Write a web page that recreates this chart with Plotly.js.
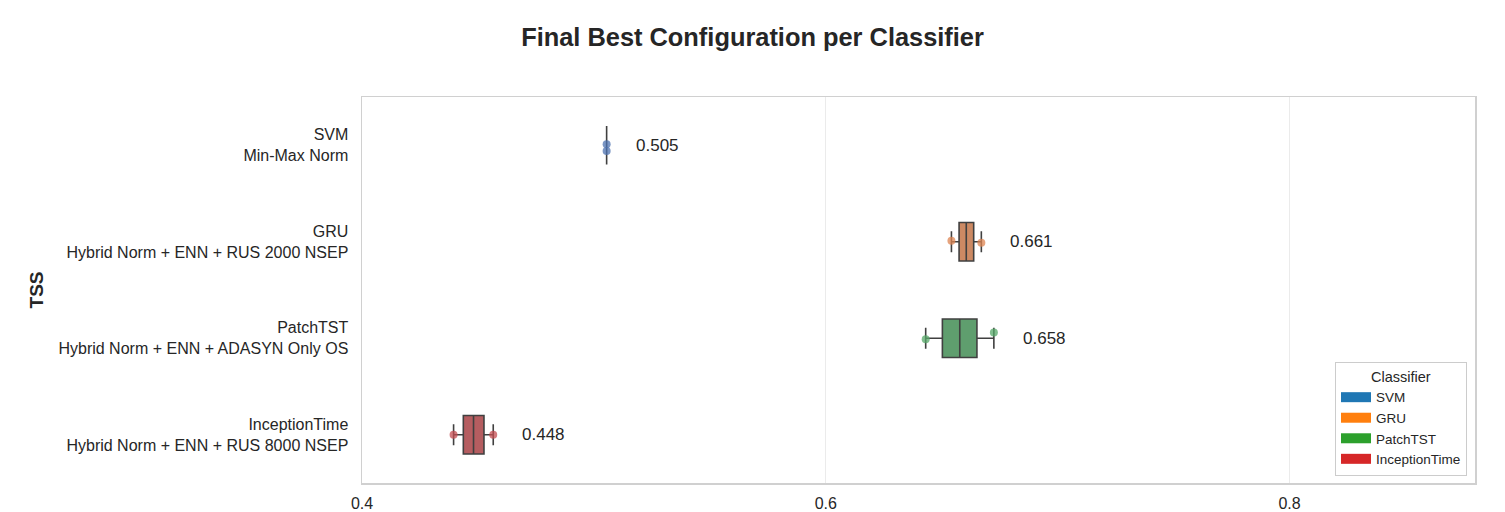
<!DOCTYPE html>
<html>
<head>
<meta charset="utf-8">
<script src="https://cdn.plot.ly/plotly-3.0.1.min.js"></script>
<style>html,body{margin:0;padding:0;background:#fff;}#chart{width:1505px;height:512px;}</style>
</head>
<body>
<div id="chart"></div>
<script>
// ---- data ----
const classifiers = ['SVM', 'GRU', 'PatchTST', 'InceptionTime'];
const configs = ['Min-Max Norm', 'Hybrid Norm + ENN + RUS 2000 NSEP', 'Hybrid Norm + ENN + ADASYN Only OS', 'Hybrid Norm + ENN + RUS 8000 NSEP'];
const whiskerLow  = [0.5055, 0.6542, 0.6431, 0.4395];
const q1          = [0.5055, 0.6575, 0.6503, 0.4437];
const median      = [0.5055, 0.6606, 0.6578, 0.4481];
const q3          = [0.5055, 0.6638, 0.6652, 0.4526];
const whiskerHigh = [0.5055, 0.6671, 0.6725, 0.4566];
const meanTSS     = [0.505, 0.661, 0.658, 0.448];
// visible run points (strip plot, others hidden under boxes) and their jitter
const pointsX = [[0.5055, 0.5055], [0.6542, 0.6671], [0.6431, 0.6725], [0.4395, 0.4566]];
const pointsJitter = [[-0.01, 0.06], [-0.01, 0.01], [0.01, -0.06], [0.0, 0.0]];
const tickVals = ['0.4', '0.6', '0.8'];

// ---- styles ----
const boxColors = ['#5875a4', '#cc8963', '#5f9e6e', '#b55d60'];
const dotColors = ['#4c72b0', '#dd8452', '#55a868', '#c44e52'];
const legendColors = ['#1f77b4', '#ff7f0e', '#2ca02c', '#d62728'];
const font = 'Liberation Sans, Arial, Helvetica, sans-serif';
const textColor = '#262626';

const traces = [];
classifiers.forEach((c, i) => {
  traces.push({
    type: 'scatter', mode: 'markers',
    x: pointsX[i], y: pointsX[i].map((_, k) => i + pointsJitter[i][k]),
    marker: {color: dotColors[i], size: 8, opacity: 0.75},
    showlegend: false, hoverinfo: 'x'
  });
});
classifiers.forEach((c, i) => {
  traces.push({
    type: 'box', orientation: 'h', y: [i],
    q1: [q1[i]], median: [median[i]], q3: [q3[i]],
    lowerfence: [whiskerLow[i]], upperfence: [whiskerHigh[i]],
    width: 0.4, whiskerwidth: 0.55, boxpoints: false,
    fillcolor: boxColors[i], line: {color: '#404040', width: 1.6},
    showlegend: false, name: c
  });
});
classifiers.forEach((c, i) => {
  traces.push({
    type: 'scatter', mode: 'lines', x: [null], y: [null], name: c,
    line: {color: legendColors[i], width: 10}, showlegend: true
  });
});

const annotations = classifiers.map((c, i) => ({
  x: whiskerHigh[i], y: i, xref: 'x', yref: 'y', xanchor: 'left', yanchor: 'middle',
  xshift: 27, showarrow: false, text: meanTSS[i].toFixed(3),
  font: {family: font, size: 17, color: textColor}
}));

const layout = {
  width: 1505, height: 512,
  margin: {l: 362, r: 30, t: 97, b: 29},
  paper_bgcolor: '#ffffff', plot_bgcolor: '#ffffff',
  font: {family: font, color: textColor},
  title: {
    text: '<b>Final Best Configuration per Classifier</b>',
    font: {family: font, size: 25.4, color: textColor},
    x: 0.5, xref: 'container', xanchor: 'center',
    y: 1 - 37 / 512, yref: 'container', yanchor: 'middle'
  },
  boxmode: 'overlay',
  xaxis: {
    range: [0.4, 0.88], tickvals: tickVals.map(Number), ticktext: tickVals,
    showgrid: true, gridcolor: '#ebebeb', gridwidth: 1,
    showline: true, mirror: true, linecolor: '#d0d0d0', linewidth: 1.5,
    zeroline: false, ticks: '', ticklabelstandoff: 5,
    tickfont: {family: font, size: 16, color: textColor}
  },
  yaxis: {
    range: [3.5, -0.5], tickvals: [0, 1, 2, 3],
    ticktext: classifiers.map((c, i) => c + '<br>' + configs[i]),
    showgrid: false, showline: true, mirror: true, linecolor: '#d0d0d0', linewidth: 1.5,
    zeroline: false, ticks: '', ticklabelstandoff: 9,
    tickfont: {family: font, size: 16, color: textColor},
    title: {text: '<b>TSS</b>', font: {family: font, size: 19, color: textColor}, standoff: 10}
  },
  legend: {
    x: 0.9928, y: 0.018, xanchor: 'right', yanchor: 'bottom',
    bgcolor: '#ffffff', bordercolor: '#cccccc', borderwidth: 1,
    font: {family: font, size: 13.5, color: textColor},
    title: {text: 'Classifier', side: 'top center', font: {family: font, size: 14.5, color: textColor}},
    tracegroupgap: 0
  },
  annotations: annotations,
  showlegend: true
};

Plotly.newPlot('chart', traces, layout, {displayModeBar: false, staticPlot: true});
</script>
</body>
</html>
